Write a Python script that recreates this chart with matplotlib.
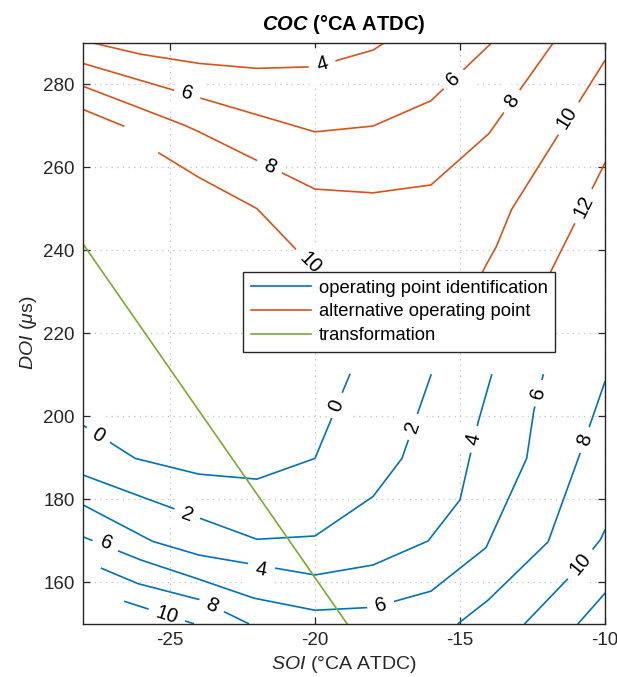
import numpy as np
import matplotlib
matplotlib.use('Agg')
import matplotlib.pyplot as plt

plt.rcParams['font.family'] = ['Liberation Sans', 'DejaVu Sans']
plt.rcParams['mathtext.fontset'] = 'custom'
plt.rcParams['mathtext.rm'] = 'Liberation Sans'
plt.rcParams['mathtext.it'] = 'Liberation Sans:italic'
plt.rcParams['mathtext.bf'] = 'Liberation Sans:bold'
plt.rcParams['mathtext.bfit'] = 'Liberation Sans:italic:bold'
plt.rcParams['axes.unicode_minus'] = False

BLUE = '#0072BD'
ORANGE = '#D95319'
GREEN = '#77AC30'

# operating point identification (blue contours)
id_levels = ['0', '2', '4', '6', '8', '8', '10', '10', '12']
id_x = [
    [-28, -26.2, -24, -22, -20, -18.8],
    [-28, -26, -22, -20, -18, -17, -16],
    [-28, -25.6, -24, -20, -18, -16.1, -15, -14.66, -14.37, -13.91],
    [-28, -26, -24.1, -22.1, -20, -18, -16, -14.1, -12.7, -12.45, -12.13],
    [-27.36, -26.1, -24, -22.3],
    [-15.06, -14.02, -11.96, -10.92, -10.0],
    [-26.55, -24.2],
    [-12.76, -11.21, -10.4, -10.17, -10],
    [-10.92, -10],
]
id_y = [
    [197.8, 189.8, 186.0, 184.8, 189.8, 210],
    [185.8, 180.6, 170.3, 171.1, 180.6, 189.8, 209.9],
    [178.6, 169.8, 166.5, 161.7, 164.1, 169.9, 179.8, 190.2, 198.6, 209.9],
    [170.9, 165.3, 160.9, 156.1, 153.2, 153.9, 157.8, 168.3, 189.8, 201.4, 209.9],
    [163.3, 159.6, 155.8, 150],
    [150, 155.7, 169.7, 189.8, 208.3],
    [155.3, 150],
    [150, 161.3, 168.1, 170.1, 172.5],
    [150, 157.3],
]
# label positions: (line index, x, y)
id_labels = [
    (0, -27.47, 195.4), (0, -19.25, 202.6),
    (1, -24.42, 176.2), (1, -16.63, 197.4),
    (2, -21.86, 163.1), (2, -14.52, 194.4),
    (3, -27.2, 169.3), (3, -17.73, 154.4), (3, -12.29, 205.5),
    (4, -23.56, 154.3), (5, -10.69, 194.2),
    (6, -25.11, 152.0), (7, -10.85, 164.3),
]

# alternative operating point (orange contours)
alt_levels = ['4', '6', '8', '10', '10', '10', '12']
alt_x = [
    [-27.7, -26, -24, -22, -20, -18, -17.6],
    [-28, -20, -18, -16, -13.9],
    [-28, -24.5, -24, -22, -20, -18, -16, -14, -11.8],
    [-28, -26.6],
    [-25.38, -24, -22, -20.63, -19.2],
    [-10, -13.22, -13.75, -14.1, -14.2, -14.5],
    [-10, -11.9, -12.2],
]
alt_y = [
    [290, 287.2, 285.0, 283.8, 284.2, 288.2, 290],
    [285.0, 268.5, 269.9, 276, 290],
    [279.5, 270.1, 268.5, 261.6, 254.7, 253.8, 255.7, 268.1, 289.8],
    [273.9, 269.9],
    [263.4, 257.5, 250.0, 240.0, 230.0],
    [285.7, 249.8, 240.8, 236.4, 235.0, 232.0],
    [261, 234.4, 230],
]
alt_labels = [
    (0, -19.75, 284.7),
    (1, -24.4, 277.7), (1, -15.23, 281.2),
    (2, -21.57, 260.1), (2, -13.22, 275.9),
    (4, -20.17, 237.0), (5, -11.32, 272.0),
    (6, -10.75, 250.6),
]

# transformation line
tr_x = [-28, -18.9]
tr_y = [241.5, 150]

fig = plt.figure(figsize=(6.17, 6.77), dpi=100)
ax = fig.add_axes([0.1345, 0.079, 0.846, 0.858])
ax.set_xlim(-28, -10)
ax.set_ylim(150, 290)


def label_angle(xs, ys, lx, ly):
    # direction of the nearest segment, in screen space
    pts = ax.transData.transform(np.column_stack([xs, ys]))
    p = ax.transData.transform((lx, ly))
    best, ang = None, 0
    for i in range(len(pts) - 1):
        a, b = pts[i], pts[i + 1]
        d = b - a
        t = np.clip(np.dot(p - a, d) / np.dot(d, d), 0, 1)
        dist = np.linalg.norm(a + t * d - p)
        if best is None or dist < best:
            best = dist
            ang = np.degrees(np.arctan2(d[1], d[0]))
    if ang > 90:
        ang -= 180
    if ang <= -90:
        ang += 180
    return ang


for xs, ys in zip(id_x, id_y):
    ax.plot(xs, ys, color=BLUE, lw=1.2, zorder=2)
for xs, ys in zip(alt_x, alt_y):
    ax.plot(xs, ys, color=ORANGE, lw=1.2, zorder=2)

for i, lx, ly in id_labels:
    ax.text(lx, ly, id_levels[i], rotation=label_angle(id_x[i], id_y[i], lx, ly),
            rotation_mode='anchor', ha='center', va='center', fontsize=14.5,
            bbox=dict(boxstyle='square,pad=0.4', fc='white', ec='none'),
            zorder=3, clip_on=True)
for i, lx, ly in alt_labels:
    ax.text(lx, ly, alt_levels[i], rotation=label_angle(alt_x[i], alt_y[i], lx, ly),
            rotation_mode='anchor', ha='center', va='center', fontsize=14.5,
            bbox=dict(boxstyle='square,pad=0.4', fc='white', ec='none'),
            zorder=3, clip_on=True)

ax.plot(tr_x, tr_y, color=GREEN, lw=1.2, zorder=4)

# legend proxies
ax.plot([], [], color=BLUE, lw=1.2, label='operating point identification')
ax.plot([], [], color=ORANGE, lw=1.2, label='alternative operating point')
ax.plot([], [], color=GREEN, lw=1.2, label='transformation')
leg = ax.legend(loc='upper left', bbox_to_anchor=(0.307, 0.6055), borderaxespad=0,
                fancybox=False, edgecolor='#262626', framealpha=1, fontsize=13.2,
                handlelength=3.3, labelspacing=0.38, handletextpad=0.4,
                borderpad=0.42)
leg.get_frame().set_linewidth(1.0)
leg.set_zorder(10)

ax.set_xticks([-25, -20, -15, -10])
ax.set_yticks([160, 180, 200, 220, 240, 260, 280])
ax.grid(True, color='#c0c0c0', linestyle=(0, (1, 3.5)), lw=0.9)
ax.tick_params(direction='in', top=True, right=True, length=5, width=0.9,
               labelsize=13.5, colors='#262626', labelcolor='#262626', pad=6)
for s in ax.spines.values():
    s.set_color('#262626')
    s.set_linewidth(1.0)
    s.set_zorder(6)

ax.set_xlabel(r'$\mathit{SOI}$ (°CA ATDC)', fontsize=14, color='#262626', labelpad=4)
ax.set_ylabel(r'$\mathit{DOI}$ ($\mu$s)', fontsize=14, color='#262626', labelpad=3)
ax.set_title(r'$\mathbfit{COC}$ (°CA ATDC)', fontsize=14.5, fontweight='bold', pad=9)

fig.savefig('out.png', dpi=100)
